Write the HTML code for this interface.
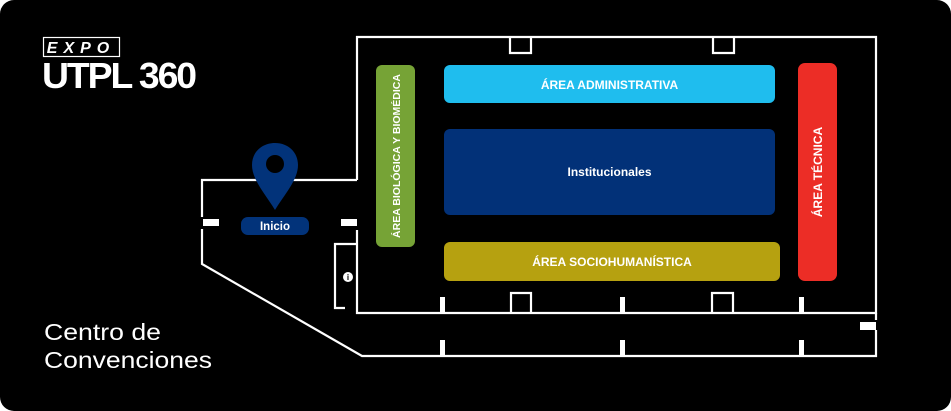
<!DOCTYPE html>
<html><head><meta charset="utf-8"><style>
html,body{margin:0;padding:0;background:#fff;}
svg{display:block;}
text{font-family:"Liberation Sans",sans-serif;}
</style></head><body>
<svg width="951" height="411" viewBox="0 0 951 411" xmlns="http://www.w3.org/2000/svg">
<rect x="0" y="0" width="951" height="411" rx="14" fill="#000"/>
<!-- logo -->
<rect x="43.5" y="37.5" width="76" height="19" fill="none" stroke="#fff" stroke-width="1.2"/>
<text x="81" y="53" fill="#fff" font-size="16" font-weight="bold" font-style="italic" text-anchor="middle" letter-spacing="6">EXPO</text>
<text x="42" y="88" fill="#fff" font-size="36" font-weight="bold" letter-spacing="-2" textLength="153" lengthAdjust="spacingAndGlyphs">UTPL 360</text>
<text x="44" y="340" fill="#fff" font-size="23" textLength="117" lengthAdjust="spacingAndGlyphs" style="font-family:'Liberation Sans','DejaVu Sans',sans-serif;font-weight:300">Centro de</text>
<text x="44" y="368" fill="#fff" font-size="23" textLength="168" lengthAdjust="spacingAndGlyphs">Convenciones</text>
<g fill="none" stroke="#fff" stroke-width="2.2">
<!-- main hall -->
<path d="M357 180 V37 H876 V313 H357 V230"/>
<path d="M510 37 V53 H531 V37 M713 37 V53 H734 V37"/>
<path d="M511 313 V293 H531 V313 M712 313 V293 H733 V313"/>
<!-- lobby -->
<path d="M357 180 H202 V217 M202 229 V264 L362 356 H876 V330 M876 313 V320"/>
<path d="M357 244 H335 V308 H345"/>
<path d="M343 222 H357"/>
</g>
<!-- doors -->
<g fill="#fff">
<rect x="440" y="297" width="5" height="16"/><rect x="620" y="297" width="5" height="16"/><rect x="799" y="297" width="5" height="16"/>
<rect x="440" y="340" width="5" height="16"/><rect x="620" y="340" width="5" height="16"/><rect x="799" y="340" width="5" height="16"/>
<rect x="860" y="322" width="16" height="8"/>
<rect x="203" y="219" width="16" height="7"/>
<rect x="341" y="219" width="16" height="7"/>
<circle cx="348" cy="277" r="5"/>
</g>
<text x="348" y="280" fill="#000" font-size="8" font-weight="bold" text-anchor="middle">i</text>
<!-- areas -->
<rect x="376" y="65" width="39" height="182" rx="6" fill="#76a336"/>
<text transform="translate(400,156) rotate(-90)" fill="#fff" font-size="10.5" font-weight="bold" text-anchor="middle">ÁREA BIOLÓGICA Y BIOMÉDICA</text>
<rect x="444" y="65" width="331" height="38" rx="6" fill="#1fbdee"/>
<text x="609.5" y="89" fill="#fff" font-size="12" font-weight="bold" text-anchor="middle">ÁREA ADMINISTRATIVA</text>
<rect x="444" y="129" width="331" height="86" rx="6" fill="#023178"/>
<text x="609.5" y="176" fill="#fff" font-size="12" font-weight="bold" text-anchor="middle">Institucionales</text>
<rect x="444" y="242" width="336" height="39" rx="6" fill="#b6a110"/>
<text x="612" y="266" fill="#fff" font-size="12" font-weight="bold" text-anchor="middle">ÁREA SOCIOHUMANÍSTICA</text>
<rect x="798" y="63" width="39" height="218" rx="7" fill="#ec2d26"/>
<text transform="translate(822,172) rotate(-90)" fill="#fff" font-size="12" font-weight="bold" text-anchor="middle">ÁREA TÉCNICA</text>
<!-- pin -->
<path d="M275 143 C262 143 252 152 252 165 C252 180 266 195 275 210 C284 195 298 180 298 165 C298 152 288 143 275 143 Z" fill="#02337a"/>
<circle cx="275" cy="164" r="9" fill="#000"/>
<rect x="241" y="217" width="68" height="18" rx="7" fill="#02337a"/>
<text x="275" y="230" fill="#fff" font-size="11.5" font-weight="bold" text-anchor="middle">Inicio</text>
</svg>
</body></html>
